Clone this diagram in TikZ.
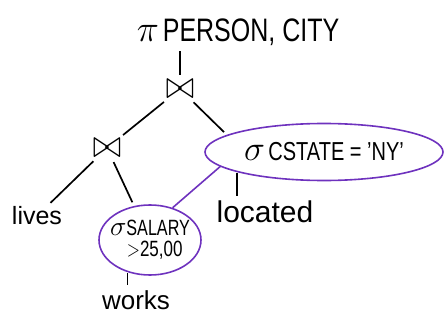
\documentclass[tikz,border=0pt]{standalone}
\usepackage{fontspec}
\setmainfont{Liberation Sans}
\usepackage{amsmath,amssymb}
\usetikzlibrary{shapes.geometric}
\definecolor{pen}{RGB}{110,50,190}
\tikzset{
  op/.style={inner sep=1pt, font=\fontsize{24}{26}\selectfont},
  rel/.style={inner sep=1pt},
  sel/.style={ellipse, draw=pen, line width=1.6pt, inner sep=0pt},
  edge/.style={line width=1.7pt, shorten <=4pt, shorten >=4pt}
}
\begin{document}
\begin{tikzpicture}[x=1pt,y=-1pt]
    \useasboundingbox (0,0) rectangle (445,321);
    \node[op] (proj) at (238,32) {\scalebox{1.5}{$\pi$}\,\fontsize{25}{28}\selectfont\scalebox{1}[1.3]{PERSON, CITY}};
    \node[op] (joinTop) at (180,89) {\scalebox{1.4}[1.6]{$\bowtie$}};
    \node[op] (joinLow) at (107,148) {\scalebox{1.4}[1.6]{$\bowtie$}};
    \node[sel, minimum width=238, minimum height=57, font=\fontsize{20}{22}\selectfont] (selState) at (324,152)
        {\scalebox{1.7}{$\sigma$}\,\scalebox{1}[1.3]{CSTATE = 'NY'}};
    \node[sel, minimum width=102, minimum height=70, inner sep=-9pt, align=center, font=\fontsize{17}{21}\selectfont] (selSalary) at (150,240)
        {\scalebox{1.6}{$\sigma$}\scalebox{0.95}[1.3]{SALARY}\\ \ \ \scalebox{1}[1.3]{$>$25,00}};
    \node[rel, font=\fontsize{25}{28}\selectfont] (lives) at (37,216) {lives};
    \node[rel, font=\fontsize{30}{32}\selectfont] (located) at (265,212) {located};
    \node[rel, font=\fontsize{26}{28}\selectfont] (works) at (136,300) {works};
    \draw[edge] (joinTop) -- (joinTop |- proj.south);
    \draw[edge] (joinTop) -- (joinLow);
    \draw[edge] (joinTop) -- (selState.170);
    \draw[edge] (joinLow) -- (lives);
    \draw[edge] (joinLow) -- (selSalary);
    \draw[edge, shorten <=1pt] (selState.193) -- (selState.193 |- located.north);
    \draw[edge, shorten <=1pt] (selSalary.235) -- (selSalary.235 |- works.north);
    \draw[pen, line width=1.6pt] (selSalary.55) -- (selState.188);
\end{tikzpicture}
\end{document}
